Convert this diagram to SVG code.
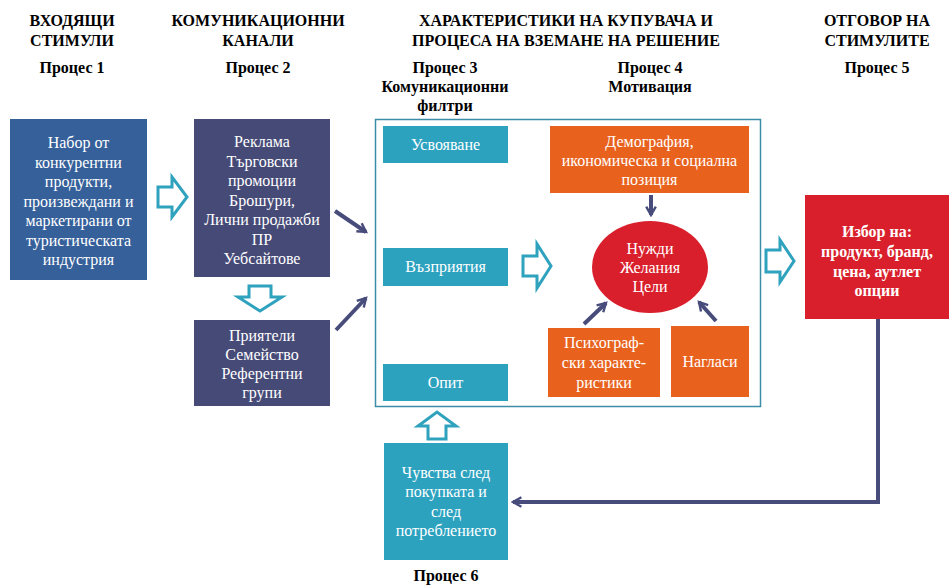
<svg xmlns="http://www.w3.org/2000/svg" width="949" height="585" viewBox="0 0 949 585">
<defs>
<style>
.h{font-family:"Liberation Serif","Times New Roman",serif;font-size:16px;font-weight:bold;fill:#000;text-anchor:middle}
.t{font-family:"Liberation Serif","Times New Roman",serif;font-size:16px;fill:#fff;text-anchor:middle}
.tb{font-family:"Liberation Serif","Times New Roman",serif;font-size:16px;font-weight:bold;fill:#fff;text-anchor:middle}
.hol{fill:#fff;stroke:#2FA2BE;stroke-width:3;stroke-linejoin:miter}
.dk{stroke:#474C7B;stroke-width:4;fill:none}
.teal{fill:#2CA2BF}
.org{fill:#E8621E}
</style>
<marker id="ah" viewBox="0 0 10 10" refX="8" refY="5" markerWidth="3" markerHeight="3" orient="auto" markerUnits="strokeWidth">
<path d="M1,1 L8,5 L1,9" fill="none" stroke="#474C7B" stroke-width="2"/>
</marker>
</defs>
<rect width="949" height="585" fill="#fff"/>

<g id="headers">
<text class="h" x="72" y="26">ВХОДЯЩИ</text>
<text class="h" x="72" y="46">СТИМУЛИ</text>
<text class="h" x="72" y="73">Процес 1</text>
<text class="h" x="258" y="26">КОМУНИКАЦИОННИ</text>
<text class="h" x="258" y="46">КАНАЛИ</text>
<text class="h" x="258" y="73">Процес 2</text>
<text class="h" x="566" y="26">ХАРАКТЕРИСТИКИ  НА КУПУВАЧА И</text>
<text class="h" x="566" y="46">ПРОЦЕСА НА ВЗЕМАНЕ НА РЕШЕНИЕ</text>
<text class="h" x="445" y="73">Процес 3</text>
<text class="h" x="445" y="92">Комуникационни</text>
<text class="h" x="445" y="111">филтри</text>
<text class="h" x="650" y="73">Процес 4</text>
<text class="h" x="650" y="92">Мотивация</text>
<text class="h" x="877" y="26">ОТГОВОР НА</text>
<text class="h" x="877" y="46">СТИМУЛИТЕ</text>
<text class="h" x="877" y="73">Процес 5</text>
<text class="h" x="446" y="581">Процес 6</text>
</g>

<g id="n1">
<rect x="10" y="119" width="137" height="161" fill="#36609A"/>
<text class="t" x="78.5" y="148">Набор от</text>
<text class="t" x="78.5" y="167.5">конкурентни</text>
<text class="t" x="78.5" y="187">продукти,</text>
<text class="t" x="78.5" y="206.5">произвеждани и</text>
<text class="t" x="78.5" y="226">маркетирани от</text>
<text class="t" x="78.5" y="245.5">туристическата</text>
<text class="t" x="78.5" y="265">индустрия</text>
</g>

<g id="n2">
<rect x="194" y="119" width="136" height="158" fill="#464A77"/>
<text class="t" x="262" y="147">Реклама</text>
<text class="t" x="262" y="166.5">Търговски</text>
<text class="t" x="262" y="186">промоции</text>
<text class="t" x="262" y="205.5">Брошури,</text>
<text class="t" x="262" y="225">Лични продажби</text>
<text class="t" x="262" y="244.5">ПР</text>
<text class="t" x="262" y="264">Уебсайтове</text>
</g>

<g id="n3">
<rect x="194" y="320" width="136" height="86" fill="#464A77"/>
<text class="t" x="262" y="341">Приятели</text>
<text class="t" x="262" y="360">Семейство</text>
<text class="t" x="262" y="379">Референтни</text>
<text class="t" x="262" y="398">групи</text>
</g>

<g id="frame">
<rect x="375.5" y="119.5" width="385" height="287" fill="none" stroke="#3C8EA6" stroke-width="1.5"/>
</g>

<g id="n4">
<rect class="teal" x="383" y="126" width="125" height="37"/>
<text class="t" x="445.5" y="150">Усвояване</text>
</g>
<g id="n5">
<rect class="teal" x="383" y="248" width="125" height="38"/>
<text class="t" x="445.5" y="272">Възприятия</text>
</g>
<g id="n6">
<rect class="teal" x="383" y="364" width="125" height="37"/>
<text class="t" x="445.5" y="388">Опит</text>
</g>

<g id="n7">
<rect class="org" x="550" y="126" width="199" height="67"/>
<text class="t" x="649.5" y="147">Демография,</text>
<text class="t" x="649.5" y="166">икономическа и социална</text>
<text class="t" x="649.5" y="185">позиция</text>
</g>

<g id="n8">
<ellipse cx="650" cy="267" rx="58" ry="46" fill="#D91F2B"/>
<text class="t" x="650" y="254">Нужди</text>
<text class="t" x="650" y="273">Желания</text>
<text class="t" x="650" y="292">Цели</text>
</g>

<g id="n9">
<rect class="org" x="548" y="328" width="112" height="69"/>
<text class="t" x="604" y="348">Психограф-</text>
<text class="t" x="604" y="368">ски характе-</text>
<text class="t" x="604" y="388">ристики</text>
</g>

<g id="n10">
<rect class="org" x="671" y="326" width="78" height="71"/>
<text class="t" x="710" y="367">Нагласи</text>
</g>

<g id="n11">
<rect x="805" y="195" width="144" height="124" fill="#D91F2B"/>
<text class="tb" x="877" y="237">Избор на:</text>
<text class="tb" x="877" y="257">продукт, бранд,</text>
<text class="tb" x="877" y="277">цена, аутлет</text>
<text class="tb" x="877" y="296">опции</text>
</g>

<g id="n12">
<rect class="teal" x="384" y="443" width="124" height="117"/>
<text class="t" x="446" y="478">Чувства след</text>
<text class="t" x="446" y="497">покупката и</text>
<text class="t" x="446" y="516.5">след</text>
<text class="t" x="446" y="536">потреблението</text>
</g>

<g id="connectors">
<path class="hol" d="M158,187 H172 V177 L187,197 L172,217 V207 H158 Z"/>
<path class="hol" d="M249,286 V297 H238 L260,311 L282,297 H271 V286 Z"/>
<path class="hol" d="M523,256 H537 V244 L551,266 L537,288 V276 H523 Z"/>
<path class="hol" d="M766,250 H780 V240 L794,261 L780,282 V272 H766 Z"/>
<path class="hol" d="M428,439 V426 H418 L437,412 L456,426 H446 V439 Z"/>
<line class="dk" x1="335" y1="211" x2="366" y2="232" marker-end="url(#ah)"/>
<line class="dk" x1="336" y1="330" x2="366" y2="298" marker-end="url(#ah)"/>
<line class="dk" x1="651" y1="195" x2="651" y2="215" marker-end="url(#ah)"/>
<line class="dk" x1="584" y1="324" x2="606" y2="303" marker-end="url(#ah)"/>
<line class="dk" x1="716" y1="321" x2="699" y2="302" marker-end="url(#ah)"/>
<path class="dk" d="M878,319 V502 H513" stroke-width="3.5" marker-end="url(#ah)"/>
</g>
</svg>
